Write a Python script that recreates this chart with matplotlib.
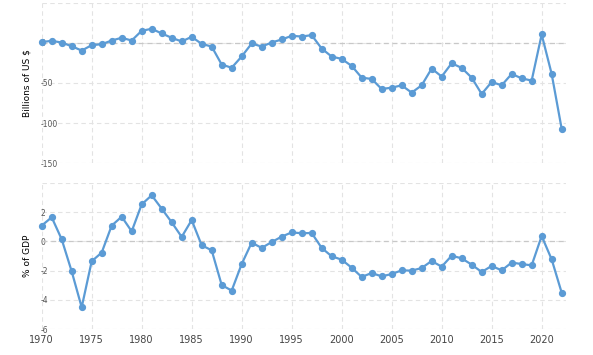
import matplotlib
matplotlib.use("Agg")
from matplotlib import pyplot as plt

years = list(range(1970, 2023))

# current account, billions of US $
balance_usd = [1.0, 2.5, 0.4, -4.2, -9.6, -2.9, -1.7, 2.9, 6.3, 2.9,
               15.0, 17.5, 11.7, 6.3, 1.7, 7.5, -1.3, -4.6, -27.0, -31.0,
               -17.0, -0.8, -4.6, 0.4, 4.2, 8.7, 7.9, 9.6, -7.1, -17.1,
               -20.0, -28.7, -43.3, -45.0, -57.5, -55.8, -52.9, -62.0, -52.9, -32.0,
               -42.0, -25.4, -31.2, -43.3, -63.7, -48.7, -52.9, -38.7, -44.2, -47.0,
               10.4, -38.7, -107.0]

# current account, % of GDP
balance_gdp = [1.07, 1.64, 0.14, -2.05, -4.5, -1.36, -0.77, 1.07, 1.68, 0.68,
               2.52, 3.14, 2.23, 1.30, 0.30, 1.45, -0.27, -0.61, -2.98, -3.36,
               -1.55, -0.09, -0.45, -0.05, 0.32, 0.61, 0.55, 0.57, -0.45, -1.02,
               -1.25, -1.80, -2.43, -2.16, -2.39, -2.23, -1.98, -2.00, -1.82, -1.34,
               -1.73, -0.98, -1.16, -1.59, -2.09, -1.68, -1.98, -1.45, -1.55, -1.64,
               0.36, -1.23, -3.50]

top_ticks = [0, -50, -100, -150]
bottom_ticks = [2, 0, -2, -4, -6]
x_ticks = [1970, 1975, 1980, 1985, 1990, 1995, 2000, 2005, 2010, 2015, 2020]

line_col = "#5b9bd5"
grid_col = "#e3e3e3"

fig = plt.figure(figsize=(5.93, 3.55), dpi=100)
ax1 = fig.add_axes([0.0703, 0.540, 0.8836, 0.4524])
ax2 = fig.add_axes([0.0703, 0.0724, 0.8836, 0.413])


def style(ax, top, ticks, ylim):
    ax.set_xlim(1970, 2022.4)
    ax.set_ylim(*ylim)
    for s in ax.spines.values():
        s.set_visible(False)
    ax.set_xticks(x_ticks)
    # top gridline has no label
    ax.set_yticks([top] + ticks)
    ax.set_yticklabels([""] + [str(t) for t in ticks])
    ax.grid(True, color=grid_col, linestyle=(0, (4, 3)), linewidth=0.8)
    ax.set_axisbelow(True)
    ax.tick_params(axis="y", length=0, pad=1, labelsize=5.5, labelcolor="#555555")
    for lab in ax.get_yticklabels():
        lab.set_horizontalalignment("left")
    ax.tick_params(axis="x", length=0, labelsize=7, labelcolor="#444444", pad=4)
    ax.axhline(0, color="#c8c8c8", linestyle=(0, (4, 3)), linewidth=0.9, zorder=1)


ax1.plot(years, balance_usd, color=line_col, linewidth=1.6, marker="o",
         markersize=4.2, zorder=3, clip_on=False)
style(ax1, 50, top_ticks, (-150, 50))
ax1.tick_params(axis="x", labelbottom=False)
ax1.set_ylabel("Billions of US $", fontsize=6.5, labelpad=6)

ax2.plot(years, balance_gdp, color=line_col, linewidth=1.6, marker="o",
         markersize=4.2, zorder=3, clip_on=False)
style(ax2, 4, bottom_ticks, (-6, 4))
ax2.set_ylabel("% of GDP", fontsize=6.5, labelpad=6)

fig.savefig("out.png", dpi=100)
